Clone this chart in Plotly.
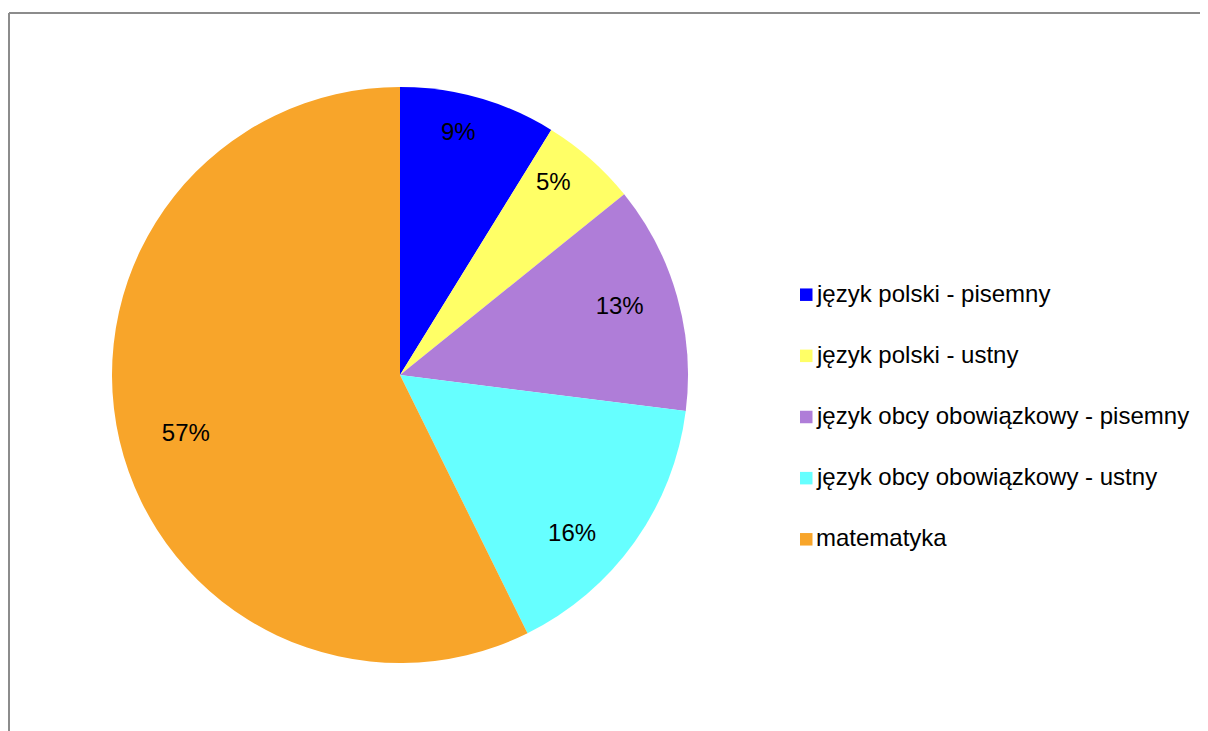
import plotly.graph_objects as go

categories = [
    "język polski - pisemny",
    "język polski - ustny",
    "język obcy obowiązkowy - pisemny",
    "język obcy obowiązkowy - ustny",
    "matematyka",
]
values = [8.8, 5.4, 12.8, 15.7, 57.3]
colors = ["#0000FF", "#FFFF66", "#AF7DD8", "#66FFFF", "#F8A52A"]
# placement of each percentage label: fraction of radius, and angular
# shift (degrees clockwise) from the slice's middle
label_radius = [0.871, 0.857, 0.80, 0.81, 0.77]
label_shift = [-2.4, -3.0, -1.7, 7.0, -1.9]

W, H = 1208, 731
OFF = 8  # page body margin
cx, cy, r = 400 - OFF, 375 - OFF, 288
FONT = "Liberation Sans, Arial"

domain = dict(
    x=[(cx - r) / W, (cx + r) / W],
    y=[1 - (cy + r) / H, 1 - (cy - r) / H],
)

fig = go.Figure()
# filled pie
fig.add_trace(go.Pie(
    labels=categories, values=values, sort=False, direction="clockwise",
    rotation=0, marker=dict(colors=colors, line=dict(width=0)),
    textinfo="none", hoverinfo="skip", showlegend=False, domain=domain,
))
# transparent rings carrying the percentage labels, one per slice
for i, (f, sh) in enumerate(zip(label_radius, label_shift)):
    fig.add_trace(go.Pie(
        labels=categories, values=values, sort=False, direction="clockwise",
        rotation=sh, hole=2 * f - 1,
        marker=dict(colors=["rgba(0,0,0,0)"] * len(values), line=dict(width=0)),
        texttemplate=["%{percent:.0%}" if j == i else " " for j in range(len(values))],
        textposition="inside",
        insidetextorientation="horizontal",
        textfont=dict(family=FONT, size=24, color="black"),
        hoverinfo="skip", showlegend=False, domain=domain,
    ))

# legend (drawn manually to match spacing)
leg_x0, leg_y0, leg_dy, sq = 792, 286.7, 61.15, 12.5
shapes = [
    dict(type="line", xref="paper", yref="paper",
         x0=1 / W, x1=1 / W, y0=0, y1=1 - 5 / H,
         line=dict(color="#8C8C8C", width=2)),
    dict(type="line", xref="paper", yref="paper",
         x0=1 / W, x1=1, y0=1 - 5 / H, y1=1 - 5 / H,
         line=dict(color="#8C8C8C", width=2)),
]
annotations = []
for i, (cat, col) in enumerate(zip(categories, colors)):
    yc = leg_y0 + i * leg_dy
    shapes.append(dict(
        type="rect", xref="paper", yref="paper",
        x0=leg_x0 / W, x1=(leg_x0 + sq) / W,
        y0=1 - (yc + sq / 2) / H, y1=1 - (yc - sq / 2) / H,
        fillcolor=col, line=dict(width=0),
    ))
    annotations.append(dict(
        text=cat, xref="paper", yref="paper",
        x=(leg_x0 + sq + 1) / W, y=1 - (yc - 1.5) / H,
        xanchor="left", yanchor="middle", showarrow=False,
        font=dict(family=FONT, size=24, color="black"),
    ))

fig.update_layout(
    width=W, height=H,
    margin=dict(l=0, r=0, t=0, b=0),
    paper_bgcolor="white", plot_bgcolor="white",
    font=dict(family=FONT, size=24, color="black"),
    uniformtext=dict(minsize=24, mode="show"),
    showlegend=False,
    shapes=shapes,
    annotations=annotations,
)

fig.write_html("out.html")
